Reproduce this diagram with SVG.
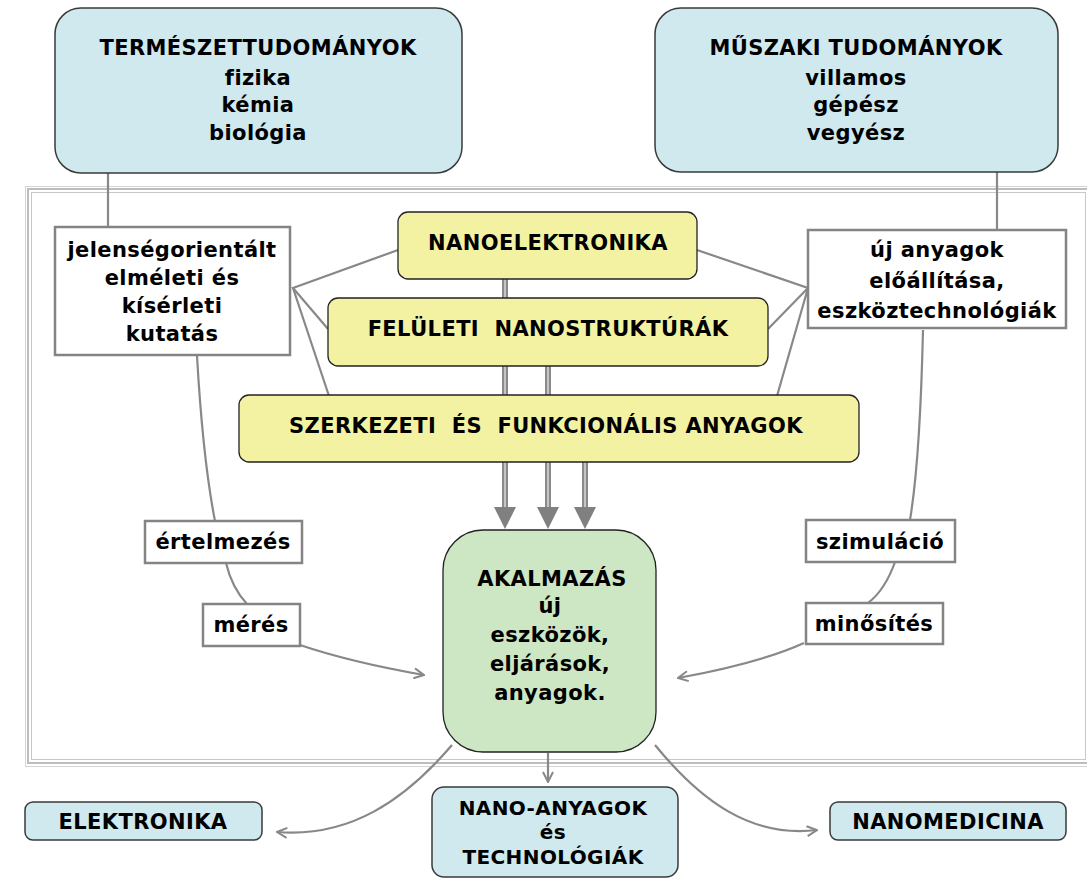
<svg xmlns="http://www.w3.org/2000/svg" width="1087" height="881" viewBox="0 0 1087 881">
<defs>
<style>
text{font-family:"DejaVu Sans","Liberation Sans",sans-serif;font-weight:bold;font-size:21px;fill:#000;text-anchor:middle;letter-spacing:0.4px;white-space:pre}
.sm{font-size:20px}
.blue{fill:#cfe9ef;stroke:#3a3a3a;stroke-width:1.5}
.yel{fill:#f3f2a2;stroke:#222;stroke-width:1.3}
.grn{fill:#cde6c3;stroke:#222;stroke-width:1.3}
.wht{fill:#fff;stroke:#848484;stroke-width:2.5}
.con{fill:none;stroke:#888;stroke-width:2.2}
.arr{fill:none;stroke:#888;stroke-width:2.2;marker-end:url(#open)}
.shaft{stroke:#8a8a8a;stroke-width:6}
.shaftin{stroke:#d8d8d8;stroke-width:1.5}
.head{fill:#808080}
</style>
<marker id="open" viewBox="0 0 12 12" refX="11" refY="6" markerWidth="12" markerHeight="12" markerUnits="userSpaceOnUse" orient="auto">
<path d="M1,1 L11,6 L1,11" fill="none" stroke="#888" stroke-width="2"/>
</marker>
</defs>
<rect width="1087" height="881" fill="#fff"/>
<g id="frame" fill="none">
<rect x="25.5" y="186.5" width="1080" height="580" stroke="#d4d4d4" stroke-width="1"/>
<rect x="28" y="189" width="1074" height="574" stroke="#bdbdbd" stroke-width="2"/>
<rect x="31.5" y="192.5" width="1054" height="567" stroke="#c8c8c8" stroke-width="1"/>
</g>
<g id="connectors">
<line class="con" x1="108" y1="173" x2="108" y2="227"/>
<line class="con" x1="997" y1="172" x2="997" y2="230"/>
<polyline class="con" points="398,250 293,288 328,329"/>
<line class="con" x1="293" y1="288" x2="329" y2="396"/>
<polyline class="con" points="697,250 808,288 768,329"/>
<line class="con" x1="808" y1="288" x2="777" y2="396"/>
<path class="con" d="M197,356 Q203,460 215,521"/>
<path class="con" d="M226,563 Q232,588 247,604"/>
<path class="arr" d="M300,645 Q350,662 424,675"/>
<path class="con" d="M923,330 Q920,460 910,520"/>
<path class="con" d="M895,562 Q885,590 868,603"/>
<path class="arr" d="M804,643 Q760,663 678,678"/>
<path class="arr" d="M548,753 L548,782"/>
<path class="arr" d="M452,745 C405,800 350,838 277,832"/>
<path class="arr" d="M655,745 C700,800 750,838 817,830"/>
<g id="triple">
<line class="shaft" x1="505" y1="279" x2="505" y2="509"/>
<line class="shaftin" x1="505" y1="279" x2="505" y2="509"/>
<line class="shaft" x1="548" y1="366" x2="548" y2="509"/>
<line class="shaftin" x1="548" y1="366" x2="548" y2="509"/>
<line class="shaft" x1="585" y1="462" x2="585" y2="509"/>
<line class="shaftin" x1="585" y1="462" x2="585" y2="509"/>
<polygon class="head" points="494,507 516,507 505,529"/>
<polygon class="head" points="537,507 559,507 548,529"/>
<polygon class="head" points="574,507 596,507 585,529"/>
</g>
</g>
<g id="termeszet">
<rect class="blue" x="55" y="8" width="407" height="165" rx="26"/>
<text x="258" y="55">TERMÉSZETTUDOMÁNYOK</text>
<text x="258" y="85">fizika</text>
<text x="258" y="112">kémia</text>
<text x="258" y="140">biológia</text>
</g>
<g id="muszaki">
<rect class="blue" x="655" y="8" width="403" height="164" rx="26"/>
<text x="856" y="55">MŰSZAKI TUDOMÁNYOK</text>
<text x="856" y="85">villamos</text>
<text x="856" y="112">gépész</text>
<text x="856" y="140">vegyész</text>
</g>
<g id="jelenseg">
<rect class="wht" x="55" y="227" width="235" height="128"/>
<text x="172" y="257">jelenségorientált</text>
<text x="172" y="285">elméleti és</text>
<text x="172" y="313">kísérleti</text>
<text x="172" y="341">kutatás</text>
</g>
<g id="ujanyagok">
<rect class="wht" x="808" y="230" width="258" height="98"/>
<text x="937" y="257">új anyagok</text>
<text x="937" y="288">előállítása,</text>
<text x="937" y="318">eszköztechnológiák</text>
</g>
<g id="nanoelektronika">
<rect class="yel" x="398" y="212" width="299" height="67" rx="10"/>
<text x="548" y="250">NANOELEKTRONIKA</text>
</g>
<g id="feluleti">
<rect class="yel" x="328" y="298" width="440" height="68" rx="10"/>
<text x="548" y="336">FELÜLETI  NANOSTRUKTÚRÁK</text>
</g>
<g id="szerkezeti">
<rect class="yel" x="239" y="395" width="620" height="67" rx="10"/>
<text x="546" y="433">SZERKEZETI  ÉS  FUNKCIONÁLIS ANYAGOK</text>
</g>
<g id="ertelmezes">
<rect class="wht" x="145" y="521" width="157" height="42"/>
<text x="223" y="549">értelmezés</text>
</g>
<g id="meres">
<rect class="wht" x="203" y="604" width="97" height="42"/>
<text x="251" y="632">mérés</text>
</g>
<g id="szimulacio">
<rect class="wht" x="806" y="520" width="149" height="42"/>
<text x="880" y="549">szimuláció</text>
</g>
<g id="minosites">
<rect class="wht" x="806" y="603" width="137" height="41"/>
<text x="874" y="631">minősítés</text>
</g>
<g id="alkalmazas">
<rect class="grn" x="443" y="530" width="213" height="222" rx="40"/>
<text x="552" y="586">AKALMAZÁS</text>
<text x="550" y="613">új</text>
<text x="550" y="642">eszközök,</text>
<text x="550" y="671">eljárások,</text>
<text x="550" y="700">anyagok.</text>
</g>
<g id="elektronika">
<rect class="blue" x="25" y="802" width="237" height="38" rx="8"/>
<text x="143" y="829">ELEKTRONIKA</text>
</g>
<g id="nanoanyagok">
<rect class="blue" x="432" y="787" width="246" height="90" rx="12"/>
<text class="sm" x="553" y="815">NANO-ANYAGOK</text>
<text class="sm" x="553" y="839">és</text>
<text class="sm" x="553" y="864">TECHNOLÓGIÁK</text>
</g>
<g id="nanomedicina">
<rect class="blue" x="830" y="802" width="236" height="38" rx="8"/>
<text x="948" y="829">NANOMEDICINA</text>
</g>
</svg>
